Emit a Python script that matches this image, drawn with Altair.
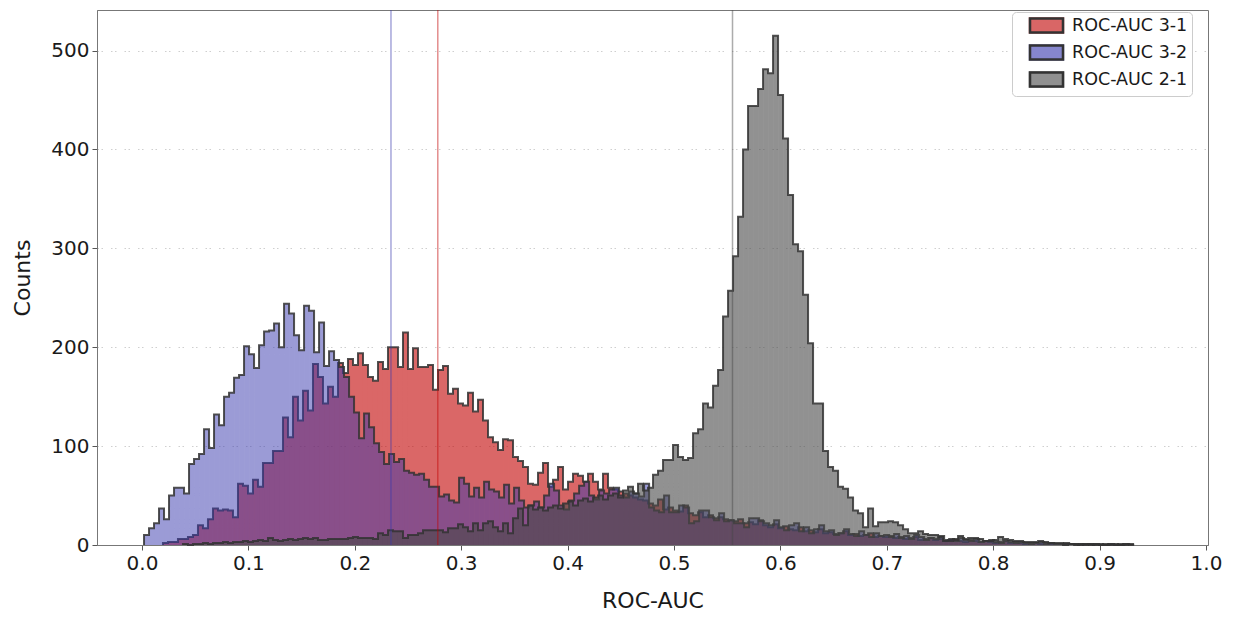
import altair as alt
import pandas as pd

# ---------------- data ----------------
series_names = ["ROC-AUC 3-1", "ROC-AUC 3-2", "ROC-AUC 2-1"]
edge_keys = ["e1", "e2", "e3"]
series_colors = ["#c10202", "#3737ad", "#484848"]
series_alpha = [0.6, 0.5, 0.6]
bin_width = 0.0047

# ROC-AUC 3-1 (red)
red_start = 0.0197
red_counts = [
    2, 3, 3, 6, 6, 8, 10, 20, 17, 26, 37, 35, 36, 35, 28, 62, 60, 52, 66, 59,
    83, 83, 95, 95, 129, 109, 150, 126, 156, 136, 183, 170, 143, 160,
    150, 184, 174, 188, 182, 194, 182, 170, 166, 185, 178, 200, 200, 180, 215, 178,
    199, 180, 180, 182,
    157, 177, 181, 153, 158, 143, 141, 154, 135, 147, 126, 109, 104, 96, 107, 106,
    89, 85, 79, 62,
    61, 73, 83, 59, 66, 79, 56, 64, 72, 70, 64, 72, 64, 56, 72, 58, 56, 54, 52, 50,
    48, 46, 45, 42,
    40, 46, 36, 38, 35, 34, 40, 32, 30, 33, 28, 30, 27, 28, 26, 25, 24, 26, 22, 23,
    21, 25,
    20, 18, 21, 17, 19, 16, 15, 18, 14, 15, 13, 16, 12, 13, 11, 12, 14, 10, 11, 9,
    10, 12, 8, 9,
    8, 9, 7, 8, 6, 7, 8, 5, 6, 7, 5, 6, 4, 5, 6, 4, 3, 5, 4, 3, 4, 3, 2, 3, 4, 2, 3,
    2, 1, 2, 2, 1, 2, 1, 1, 1, 0, 1, 1, 0, 1, 1, 0, 0, 1, 0, 0, 1, 0, 1,
]

# ROC-AUC 3-2 (blue)
blue_start = 0.0019
blue_counts = [
    10, 17, 22, 37, 26, 50, 58, 58, 52, 82, 87, 92, 117, 98, 132, 121, 150, 154, 169, 172,
    201, 193, 179, 202, 216, 217, 224, 200, 244, 234, 212, 197, 242, 237, 195, 225, 181,
    196, 187, 180, 170, 150, 134, 108, 133, 119, 103, 94, 82, 92, 84, 87, 75, 73, 71,
    72, 66, 59,
    59, 49, 51, 45, 43, 68, 62, 49, 58, 48, 64, 56, 54, 48, 61, 42, 58, 45, 38,
    40, 44, 38, 50, 62, 55, 40, 36, 45, 52, 60, 64, 50, 46, 55, 52, 56, 58, 50, 48,
    54, 52, 49, 62,
    38, 35, 33, 50, 33, 33, 40, 38, 22, 24, 35, 35, 28, 25, 32, 24, 25, 22, 22, 18,
    27, 27, 24,
    22, 20, 25, 18, 15, 20, 22, 14, 18, 12, 16, 20, 14, 15, 10, 12, 16, 11, 9, 14,
    10, 8, 12, 9,
    10, 8, 11, 7, 9, 6, 10, 8, 5, 7, 6, 9, 5, 6, 4, 7, 5, 4, 6, 3, 4, 5, 3, 2, 4, 3,
    2, 3, 2, 1, 2, 3, 1, 2, 1, 1, 2, 1, 0, 1, 1, 0, 1, 0, 0, 1, 0, 0, 1, 0,
]

# ROC-AUC 2-1 (grey)
grey_start = 0.0385
grey_counts = [
    1, 0, 1, 1, 2, 1, 2, 2, 3, 2, 3, 3, 4, 3, 4, 5, 4, 7, 5, 4, 5, 6, 5, 6, 7, 6, 7,
    5, 5, 6, 6, 6, 6, 7, 8, 7, 7, 7, 6, 12, 10, 15, 14, 14, 7, 10, 10, 12, 15,
    15, 15, 15, 13, 17, 17, 21, 18, 14, 22, 15, 22, 24, 18, 14, 22, 12, 27, 37, 20,
    40, 36, 38, 35, 38, 40, 37, 42, 44, 40, 45, 47, 44, 48, 50, 46, 50, 52, 48, 55,
    59, 52, 62, 55,
    58, 71, 75, 86, 86, 101, 89, 86, 88, 113, 117, 143, 139, 161, 177, 231, 257, 292,
    332, 400, 444, 444, 461, 481, 477, 515, 455, 411, 354, 304, 297, 253, 204, 143,
    143, 95, 79, 75, 59, 57, 48, 35, 32, 18, 37, 19,
    23, 23, 24, 23, 20, 16, 12, 12, 14, 11, 10, 10, 8, 4, 4, 5, 9, 6, 7, 7, 6, 4, 4,
    5, 8, 6, 5, 4, 4, 3, 3, 3, 4, 3, 2, 2, 2, 1, 1, 1, 1, 0, 1, 1, 1, 0, 1, 1, 0, 1,
]

# mean values (vertical lines)
mean_values = [0.278, 0.234, 0.555]

x_ticks = [round(0.1 * i, 1) for i in range(11)]
y_ticks = [0, 100, 200, 300, 400, 500]

# ---------------- build tables ----------------
rows = []
for name, key, start, counts in zip(series_names, edge_keys,
                                    [red_start, blue_start, grey_start],
                                    [red_counts, blue_counts, grey_counts]):
    rows.append({"series": name, "edge": key, "x": start, "count": 0, "order": 0})
    for i, c in enumerate(counts):
        rows.append({"series": name, "edge": key, "x": start + i * bin_width,
                     "count": c, "order": i + 1})
    rows.append({"series": name, "edge": key, "x": start + len(counts) * bin_width,
                 "count": 0, "order": len(counts) + 1})
hist = pd.DataFrame(rows)
means = pd.DataFrame({"series": series_names, "mean": mean_values})

FONT = "DejaVu Sans"
x_scale = alt.Scale(domain=[-0.0423, 1.0019], nice=False, zero=False)
y_scale = alt.Scale(domain=[0, 541], nice=False)
color_scale = alt.Scale(domain=series_names, range=series_colors)
edge_scale = alt.Scale(domain=edge_keys, range=["#333333", "#333333", "#333333"])

sym_path = "M-2,-0.85H2V0.85H-2Z"
legend_common = dict(
    title=None, orient="none", legendX=915, legendY=2, padding=4,
    labelFont=FONT, labelFontSize=17.5, labelColor="#1a1a1a", labelOffset=16,
    symbolType=sym_path, symbolSize=272, symbolOffset=21,
    symbolStrokeWidth=2.5, rowPadding=2,
)
# coloured swatches + labels
legend_fill = alt.Legend(strokeColor="#cccccc", fillColor="white", cornerRadius=4,
                         symbolOpacity=0.6, zindex=1, **legend_common)
# dark swatch outlines drawn on top (blank labels, the first legend carries the text)
legend_edge = alt.Legend(labelExpr="' '", zindex=2, **legend_common)

x_axis = alt.Axis(title="ROC-AUC", values=x_ticks, format=".1f", grid=False,
                  labelFont=FONT, labelFontSize=20, labelColor="#1a1a1a",
                  titleFont=FONT, titleFontSize=22, titleFontWeight="normal",
                  titleColor="#1a1a1a", titlePadding=17,
                  tickSize=5, tickColor="#555555", labelPadding=3,
                  domainColor="#777777")
y_axis = alt.Axis(title="Counts", values=y_ticks, grid=True,
                  gridDash=[1.5, 2.5, 1.5, 8], gridColor="#cfcfcf", gridWidth=1,
                  labelFont=FONT, labelFontSize=20, labelColor="#1a1a1a",
                  titleFont=FONT, titleFontSize=22, titleFontWeight="normal",
                  titleColor="#1a1a1a", titlePadding=16,
                  tickSize=5, tickColor="#555555", labelPadding=3,
                  domainColor="#777777")

layers = []
for i, name in enumerate(series_names):
    base = alt.Chart(hist).transform_filter(alt.datum.series == name)
    area = base.mark_area(interpolate="step-after", fillOpacity=series_alpha[i]).encode(
        x=alt.X("x:Q", scale=x_scale, axis=x_axis),
        y=alt.Y("count:Q", scale=y_scale, axis=y_axis),
        color=alt.Color("series:N", scale=color_scale, legend=legend_fill),
        order=alt.Order("order:Q"),
    )
    line = base.mark_line(interpolate="step-after", strokeWidth=2,
                          strokeOpacity=0.85).encode(
        x=alt.X("x:Q", scale=x_scale, axis=x_axis),
        y=alt.Y("count:Q", scale=y_scale, axis=y_axis),
        stroke=alt.Stroke("edge:N", scale=edge_scale, legend=legend_edge),
        order=alt.Order("order:Q"),
    )
    layers += [area, line]

rules = alt.Chart(means).mark_rule(strokeWidth=1.5, opacity=0.45).encode(
    x=alt.X("mean:Q", scale=x_scale, axis=x_axis),
    color=alt.Color("series:N", scale=color_scale, legend=None),
)
layers.append(rules)

chart = alt.layer(*layers).properties(
    width=1111, height=535,
    autosize=alt.AutoSizeParams(type="none"),
    padding={"left": 89, "top": 2, "right": 18, "bottom": 66},
).configure_view(stroke="#777777", strokeWidth=1).configure_axis(
    labelFont=FONT, titleFont=FONT
)

chart.save("out.html", embed_options={"renderer": "svg", "actions": False})
